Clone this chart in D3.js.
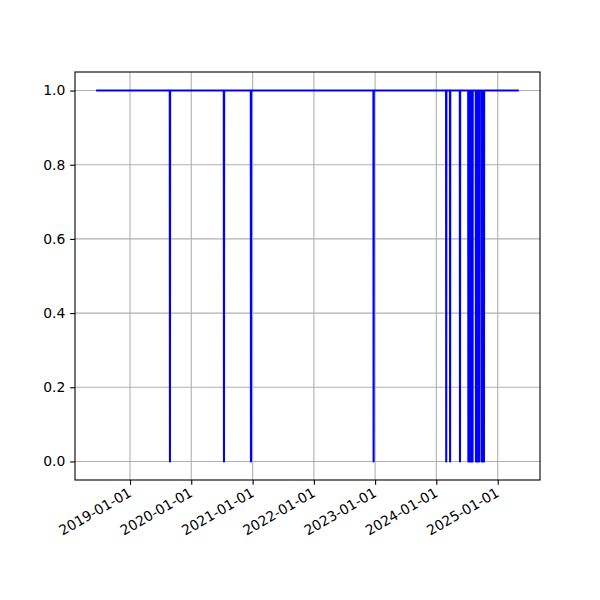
<!DOCTYPE html>
<html><head><meta charset="utf-8">
<script src="https://cdn.jsdelivr.net/npm/d3@7"></script>
<style>body{margin:0;background:#fff}svg{display:block}text{font-family:"DejaVu Sans",sans-serif}</style>
</head><body><div id="c"></div>
<script>
// Series points (date, value): value 1 with drops to 0
const dates = [
 "2018-06-13",
 "2019-08-26","2019-08-27","2019-08-28",
 "2020-07-13","2020-07-14","2020-07-15",
 "2020-12-21","2020-12-22","2020-12-23",
 "2022-12-22","2022-12-23","2022-12-24",
 "2024-02-28","2024-02-29","2024-03-01",
 "2024-03-22","2024-03-23","2024-03-24",
 "2024-05-20","2024-05-21","2024-05-22",
 "2024-07-09","2024-07-10","2024-07-14","2024-07-15",
 "2024-07-19","2024-07-20","2024-07-24","2024-07-25",
 "2024-07-29","2024-07-30","2024-08-04","2024-08-05",
 "2024-08-23","2024-08-24","2024-08-28","2024-08-29",
 "2024-09-01","2024-09-02","2024-09-06","2024-09-07",
 "2024-09-08","2024-09-09","2024-09-12","2024-09-13",
 "2024-09-26","2024-09-27","2024-10-01","2024-10-02",
 "2024-10-04","2024-10-05","2024-10-11","2024-10-12",
 "2025-05-07"
];
const values = [
 1,
 1,0,1,
 1,0,1,
 1,0,1,
 1,0,1,
 1,0,1,
 1,0,1,
 1,0,1,
 1,0,0,1,
 1,0,0,1,
 1,0,0,1,
 1,0,0,1,
 1,0,0,1,
 1,0,0,1,
 1,0,0,1,
 1,0,0,1,
 1
];
const yTicks = [0.0,0.2,0.4,0.6,0.8,1.0];
const xTickDates = ["2019-01-01","2020-01-01","2021-01-01","2022-01-01","2023-01-01","2024-01-01","2025-01-01"];

const W=600,H=600, L=75, R=540, T=72, B=480;
const parse = d3.utcParse("%Y-%m-%d");
const data = dates.map((d,i)=>({x:parse(d), y:values[i]}));
const ext = d3.extent(data, d=>d.x);
const pad = (ext[1]-ext[0])*0.05;
const x = d3.scaleUtc().domain([new Date(+ext[0]-pad), new Date(+ext[1]+pad)]).range([L,R]);
const y = d3.scaleLinear().domain([-0.05,1.05]).range([B,T]);

const svg = d3.select("#c").append("svg").attr("width",W).attr("height",H);
const fs = 13.9;
const gridW = 1.1;

// grid
const xt = xTickDates.map(parse);
svg.append("g").selectAll("line").data(xt).join("line")
  .attr("x1",d=>x(d)).attr("x2",d=>x(d)).attr("y1",T).attr("y2",B)
  .attr("stroke","#b0b0b0").attr("stroke-width",gridW);
svg.append("g").selectAll("line").data(yTicks).join("line")
  .attr("x1",L).attr("x2",R).attr("y1",d=>y(d)).attr("y2",d=>y(d))
  .attr("stroke","#b0b0b0").attr("stroke-width",gridW);

// line
const clip = svg.append("clipPath").attr("id","cp").append("rect").attr("x",L).attr("y",T).attr("width",R-L).attr("height",B-T);
svg.append("path").datum(data)
  .attr("clip-path","url(#cp)")
  .attr("d", d3.line().x(d=>x(d.x)).y(d=>y(d.y)))
  .attr("fill","none").attr("stroke","#0000ff").attr("stroke-width",2.08)
  .attr("stroke-linejoin","round");

// axes
const fmt = d3.utcFormat("%Y-%m-%d");
const xAxis = d3.axisBottom(x).tickValues(xt).tickFormat(fmt).tickSize(4.86).tickPadding(4.86);
const gx = svg.append("g").attr("transform",`translate(0,${B})`).call(xAxis);
gx.select(".domain").remove();
gx.selectAll(".tick line").attr("stroke","#000").attr("stroke-width",1.1);
gx.selectAll(".tick text").attr("font-size",fs).attr("fill","#000")
  .attr("text-anchor","end").attr("dy",null).attr("y",null)
  .attr("transform","translate(0,12) rotate(-30)").attr("dominant-baseline","middle");

const yAxis = d3.axisLeft(y).tickValues(yTicks).tickFormat(d3.format(".1f")).tickSize(4.86).tickPadding(4.86);
const gy = svg.append("g").attr("transform",`translate(${L},0)`).call(yAxis);
gy.select(".domain").remove();
gy.selectAll(".tick line").attr("stroke","#000").attr("stroke-width",1.1);
gy.selectAll(".tick text").attr("font-size",fs).attr("fill","#000");

svg.append("rect").attr("x",L).attr("y",T).attr("width",R-L).attr("height",B-T)
  .attr("fill","none").attr("stroke","#000").attr("stroke-width",1.1);
</script></body></html>
